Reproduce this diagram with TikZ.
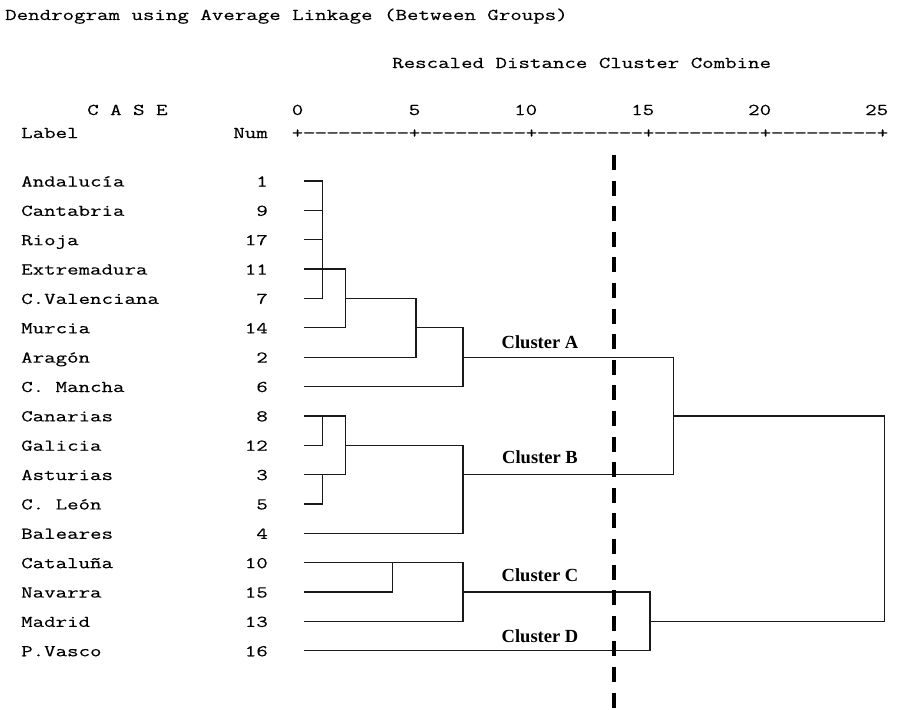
\documentclass[tikz,border=0pt]{standalone}
\usepackage{fontspec}
\setmainfont{Liberation Serif}
\newfontfamily\spssmono[FakeStretch=1.351,FakeBold=0.25]{Latin Modern Mono}
\newfontfamily\clusterfont{Liberation Serif}
\begin{document}
\begin{tikzpicture}[x=1pt,y=-1pt,
  mono/.style={inner sep=0pt, text=black, font=\spssmono\fontsize{16.5}{18}\selectfont},
  clus/.style={inner sep=0pt, font=\clusterfont\bfseries\fontsize{18.5}{20}\selectfont},
  den/.style={line width=1.25pt, black!90},
  cutline/.style={line width=3.3pt, black, dash pattern=on 15pt off 10.6pt}]
\useasboundingbox (0,0) rectangle (901,709);

% headings
\node[mono, anchor=base west] (title) at (5,20) {Dendrogram using Average Linkage (Between Groups)};
\node[mono, anchor=base west] (resc) at (392,68) {Rescaled Distance Cluster Combine};
\node[mono, anchor=base west] (case) at (87,115) {C A S E};
\node[mono, anchor=base west] (labhead) at (21,138) {Label};
\node[mono, anchor=base east] (numhead) at (268,138) {Num};

% axis numbers
\node[mono, anchor=base] (t0) at (297.5,115) {0};
\node[mono, anchor=base] (t5) at (414.5,115) {5};
\node[mono, anchor=base east] (t10) at (537.35,115) {10};
\node[mono, anchor=base east] (t15) at (654.35,115) {15};
\node[mono, anchor=base east] (t20) at (771.35,115) {20};
\node[mono, anchor=base east] (t25) at (888.35,115) {25};

% axis ruler
\foreach \i in {0,...,50}{
  \pgfmathtruncatemacro\m{mod(\i,10)}
  \ifnum\m=0 \def\ch{+}\else\def\ch{\scalebox{1.15}[1]{-}}\fi
  \node[mono, anchor=base] (ax\i) at (297.5+\i*11.7,138) {\ch};
}

% rows
\foreach \r/\lab/\n in {1/Andalucía/1, 2/Cantabria/9, 3/Rioja/17, 4/Extremadura/11,
  5/C.Valenciana/7, 6/Murcia/14, 7/Aragón/2, 8/C. Mancha/6, 9/Canarias/8,
  10/Galicia/12, 11/Asturias/3, 12/C. León/5, 13/Baleares/4, 14/Cataluña/10,
  15/Navarra/15, 16/Madrid/13, 17/P.Vasco/16}{
  \pgfmathsetmacro\yy{181+29.36*(\r-1)}
  \node[mono, anchor=base west] (lab\r) at (21,\yy+5.5) {\lab};
  \node[mono, anchor=base east] (num\r) at (268,\yy+5.5) {\n};
  \coordinate (L\r) at (304,\yy);
}

% merge levels
\coordinate (k1) at (322.3,0);
\coordinate (k2) at (345.3,0);
\coordinate (k3) at (392.3,0);
\coordinate (k4) at (416,0);
\coordinate (k5) at (463,0);
\coordinate (k6) at (650,0);
\coordinate (k7) at (673.7,0);
\coordinate (k8) at (884.3,0);

% cluster A
\draw[den] (L1) -| (k1|-L5) -- (L5);
\draw[den] (L2) -- (k1|-L2);
\draw[den] (L3) -- (k1|-L3);
\draw[den] (L4) -| (k2|-L6) -- (L6);
\draw[den] (k2|-L5) -| (k4|-L7) -- (L7);
\draw[den] (k4|-L6) -| (k5|-L8) -- (L8);
% cluster B
\draw[den] (L9) -| (k1|-L10) -- (L10);
\draw[den] (L11) -| (k1|-L12) -- (L12);
\draw[den] (L9) -| (k2|-L11) -- (L11);
\draw[den] (k2|-L10) -| (k5|-L13) -- (L13);
% A + B
\draw[den] (k5|-L7) -| (k7|-L11) -- (k5|-L11);
% cluster C and D
\draw[den] (L14) -| (k3|-L15) -- (L15);
\draw[den] (L14) -| (k5|-L16) -- (L16);
\draw[den] (k5|-L15) -| (k6|-L17) -- (L17);
% top merge
\draw[den] (k7|-L9) -| (k8|-L16) -- (k6|-L16);

% cluster labels
\node[clus, anchor=base] (cA) at (540,348.3) {Cluster A};
\node[clus, anchor=base] (cB) at (540,463.3) {Cluster B};
\node[clus, anchor=base] (cC) at (540,581.5) {Cluster C};
\node[clus, anchor=base] (cD) at (540,642) {Cluster D};

% cut line
\coordinate (dtop) at (614,155);
\coordinate (dbot) at (614,708);
\draw[cutline] (dtop) -- (dbot);
\end{tikzpicture}
\end{document}
